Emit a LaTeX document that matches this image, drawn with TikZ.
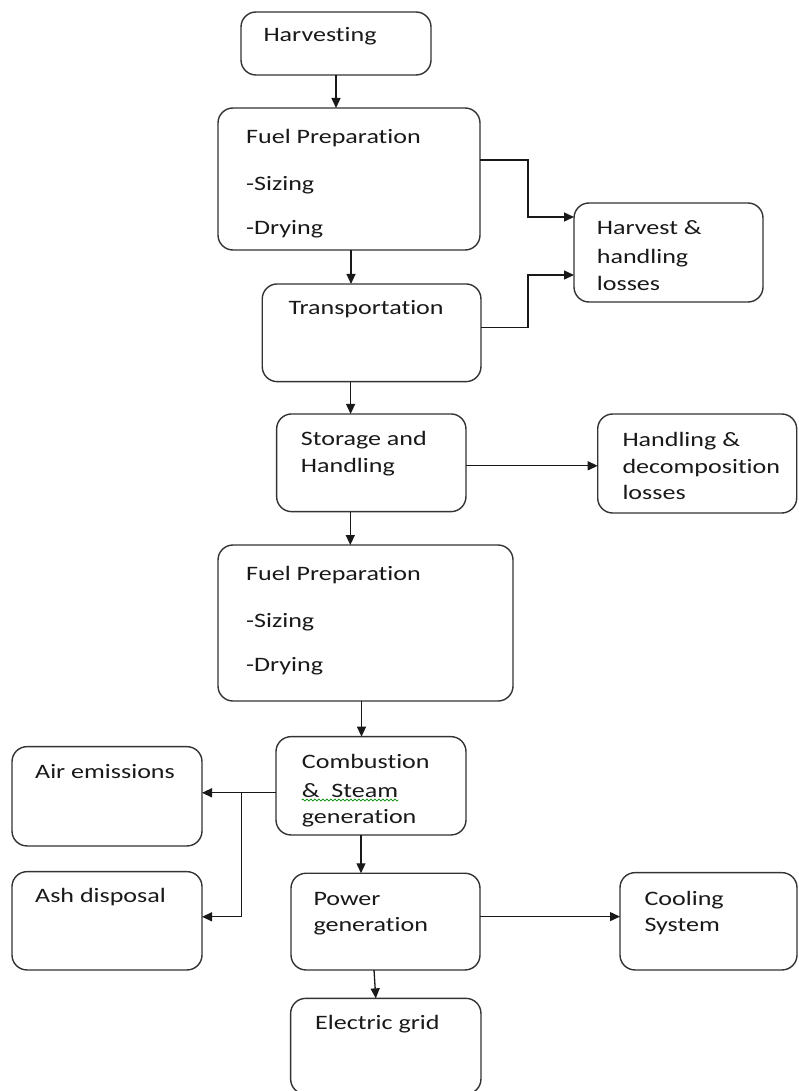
\documentclass[tikz,border=0pt]{standalone}
\usepackage{fontspec}
\setmainfont[FakeStretch=1.27, Ligatures={NoCommon,TeX}]{Carlito}
\usetikzlibrary{arrows.meta,decorations.pathmorphing}
\begin{document}
\begin{tikzpicture}[x=1pt,y=-1pt,
  box/.style={draw=black!80, line width=1.4pt, rounded corners=15pt, inner sep=0pt, outer sep=0pt},
  txt/.style={anchor=base west, inner sep=0pt, text=black!90, font=\fontsize{20.5}{24}\selectfont},
  arr/.style={-{Triangle[length=10pt,width=9pt]}, line width=1.3pt, draw=black!90}]
\useasboundingbox (0,0) rectangle (798,1091);
% boxes
\node[box, minimum width=190pt, minimum height=63pt] (harv) at (336,43.5) {};
\node[box, minimum width=262pt, minimum height=142pt] (fuel1) at (349,179) {};
\node[box, minimum width=189pt, minimum height=99pt] (loss1) at (668.5,252.5) {};
\node[box, minimum width=218.7pt, minimum height=97.7pt] (trans) at (371.6,332.8) {};
\node[box, minimum width=189.3pt, minimum height=97.7pt] (stor) at (371.3,462.8) {};
\node[box, minimum width=199pt, minimum height=99pt] (hloss) at (697.2,463.5) {};
\node[box, minimum width=295pt, minimum height=156pt] (fuel2) at (365.5,623) {};
\node[box, minimum width=190pt, minimum height=98.3pt] (comb) at (371,785.8) {};
\node[box, minimum width=190pt, minimum height=99.3pt] (air) at (107,796.3) {};
\node[box, minimum width=190pt, minimum height=98.3pt] (ash) at (107,920.8) {};
\node[box, minimum width=189pt, minimum height=96.7pt] (power) at (385.5,921.6) {};
\node[box, minimum width=177pt, minimum height=97.3pt] (cool) at (708.5,921.3) {};
\node[box, minimum width=190.3pt, minimum height=95.7pt] (grid) at (385.8,1046.2) {};
% texts
\node[txt] (tharv) at (263.3,41.7) {Harvesting};
\node[txt] (tf1a) at (246,143.3) {Fuel Preparation};
\node[txt] (tf1b) at (246,190.7) {-Sizing};
\node[txt] (tf1c) at (246,235) {-Drying};
\node[txt] (tl1a) at (596.7,235) {Harvest \&};
\node[txt] (tl1b) at (596.7,263.3) {handling};
\node[txt] (tl1c) at (596.7,290) {losses};
\node[txt] (ttrans) at (288.3,314.3) {Transportation};
\node[txt] (tsta) at (300.7,445.7) {Storage and};
\node[txt] (tstb) at (300.7,472.7) {Handling};
\node[txt] (thla) at (622.3,446) {Handling \&};
\node[txt] (thlb) at (622.3,473) {decomposition};
\node[txt] (thlc) at (622.3,499.5) {losses};
\node[txt] (tf2a) at (246,580.7) {Fuel Preparation};
\node[txt] (tf2b) at (246,627.3) {-Sizing};
\node[txt] (tf2c) at (246,671.7) {-Drying};
\node[txt] (tca) at (301.7,768.3) {Combustion};
\node[txt] (tcb) at (301.7,797.3) {\&\ \ Steam};
\node[txt] (tcc) at (301.7,823.3) {generation};
\node[txt] (tair) at (35,778.3) {Air emissions};
\node[txt] (tash) at (35,902.7) {Ash disposal};
\node[txt] (tpa) at (313.3,905) {Power};
\node[txt] (tpb) at (313.3,931.7) {generation};
\node[txt] (tcoa) at (644.3,905) {Cooling};
\node[txt] (tcob) at (644.3,931) {System};
\node[txt] (tgrid) at (315,1029) {Electric grid};
% spell-check underline
\draw[green!55!black, line width=0.7pt, decorate, decoration={snake, amplitude=1pt, segment length=4pt}] (301.7,800) -- (398.3,800);
% connectors
\coordinate (j1) at (528,0);
\coordinate (j2) at (241.7,0);
\draw[arr] (harv.south) -- (harv.south |- fuel1.north);
\draw[arr] ([xshift=2pt]fuel1.south) -- ([xshift=2pt]fuel1.south |- trans.north);
\draw[arr] ([xshift=-21pt]trans.south) -- ([xshift=-21pt]trans.south |- stor.north);
\draw[arr] ([xshift=-21pt]stor.south) -- ([xshift=-21pt]stor.south |- fuel2.north);
\draw[arr] ([xshift=-4pt]fuel2.south) -- ([xshift=-4pt]fuel2.south |- comb.north);
\draw[arr] ([xshift=-10pt]comb.south) -- ([xshift=-10pt]comb.south |- power.north);
\draw[arr] ([xshift=-11.5pt]power.south) -- ([xshift=-10pt]grid.north);
\draw[arr] ([yshift=19pt]fuel1.east) -- ([yshift=19pt]fuel1.east -| j1) |- ([yshift=35.5pt]loss1.west);
\draw[arr] ([yshift=5.5pt]trans.east) -- ([yshift=5.5pt]trans.east -| j1) |- ([yshift=-22.5pt]loss1.west);
\draw[arr] ([yshift=-3pt]stor.east) -- ([yshift=-3pt]stor.east -| hloss.west);
\draw[arr] ([yshift=-7pt]comb.west) -- ([yshift=-7pt]comb.west -| air.east);
\draw[arr] ([yshift=-7pt]comb.west -| j2) |- ([yshift=4pt]ash.east);
\draw[arr] ([yshift=5pt]power.east) -- ([yshift=5pt]power.east -| cool.west);
\end{tikzpicture}
\end{document}
